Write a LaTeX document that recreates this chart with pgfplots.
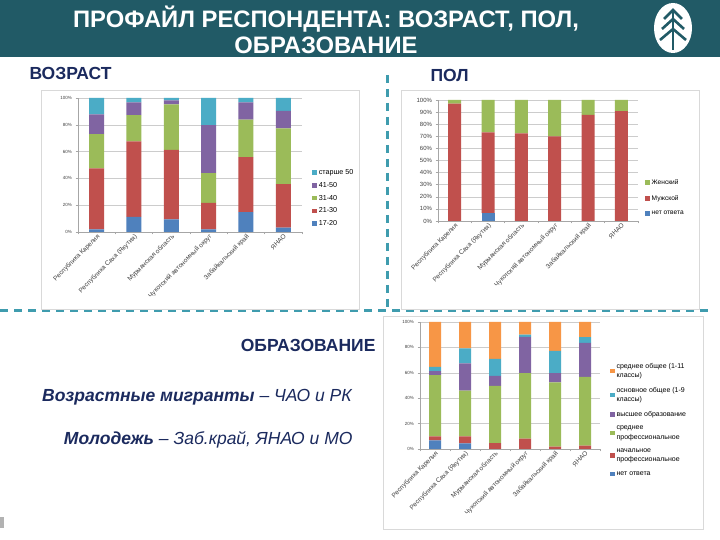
\documentclass[border=0pt]{standalone}
\usepackage{fontspec}
\setmainfont{Liberation Sans}
\usepackage{pgfplots}
\pgfplotsset{compat=1.18}
\definecolor{xblue}{HTML}{4F81BD}
\definecolor{xred}{HTML}{C0504D}
\definecolor{xgreen}{HTML}{9BBB59}
\definecolor{xpurple}{HTML}{8064A2}
\definecolor{xaqua}{HTML}{4BACC6}
\definecolor{xorange}{HTML}{F79646}
\definecolor{hdr}{HTML}{215A66}
\definecolor{navy}{HTML}{1B2A5E}
\definecolor{dashc}{HTML}{3F9CAE}
\definecolor{frame}{HTML}{D9D9D9}
\newcommand\fs[1]{\fontsize{#1}{#1}\selectfont}
\pgfplotsset{
  xlchart/.style={
    scale only axis, ybar stacked, ymin=0, ymax=100, xmin=-0.5, xmax=5.5,
    axis x line*=bottom, axis y line*=left,
    axis line style={draw=gray!70, line width=0.5pt},
    xtick={-0.5,0.5,...,5.5}, xticklabels={},
    extra x ticks={0,1,2,3,4,5},
    extra x tick labels={Республика Карелия,Республика Саха (Якутия),Мурманская область,Чукотский автономный округ,Забайкальский край,ЯНАО},
    extra x tick style={major tick length=0pt, grid=none, tick label style={rotate=45, anchor=north east, inner sep=1pt, text=black!75, font=\fs{6.5}}},
    tick align=outside, major tick length=2.5pt, tick style={draw=gray!70, line width=0.4pt},
    ymajorgrids, grid style={gray!40, line width=0.4pt},
    yticklabel style={text=black!75},
    /pgf/number format/assume math mode=true,
    legend cell align=left, reverse legend,
    legend style={draw=none, fill=none, anchor=south west, inner sep=0pt},
    legend image code/.code={\fill[##1] (0pt,-2pt) rectangle (4.5pt,2.5pt);},
    every axis plot/.append style={draw=none},
  }
}
\begin{document}
\begin{tikzpicture}[x=1pt,y=1pt]
\useasboundingbox (0,0) rectangle (720,540);
\fill[white] (0,0) rectangle (720,540);
\coordinate (Aage) at (78,308);
\coordinate (Agen) at (438,319);
\coordinate (Aedu) at (420,91);
% header
\fill[hdr] (0,483) rectangle (720,540);
\node[white, font=\bfseries\fontsize{23.8}{26}\selectfont, align=center] at (326,510) {ПРОФАЙЛ РЕСПОНДЕНТА: ВОЗРАСТ, ПОЛ,\\ОБРАЗОВАНИЕ};
\fill[white] (673,512) ellipse [x radius=19, y radius=25];
\draw[hdr, line width=2.6pt] (664,521) -- (673,530) -- (682,521);
\draw[hdr, line width=2.6pt] (662,511) -- (673,521) -- (684,511);
\draw[hdr, line width=2.6pt] (660,500) -- (673,511) -- (686,500);
\draw[hdr, line width=2.6pt] (673,530) -- (673,490);
% section labels
\node[navy, font=\bfseries\fs{17.5}, anchor=west] at (26,467) {ВОЗРАСТ};
\node[navy, font=\bfseries\fs{17.5}, anchor=west] at (427,465) {ПОЛ};
\node[navy, font=\bfseries\fs{17.5}, anchor=east] at (379,195) {ОБРАЗОВАНИЕ};
\node[navy, font=\fs{17.5}, anchor=east] at (356,143) {\textbf{\textit{Возрастные мигранты}} \textit{– ЧАО и РК}};
\node[navy, font=\fs{17.5}, anchor=east] at (356,100) {\textbf{\textit{Молодежь}} \textit{– Заб.край, ЯНАО и МО}};
% separators
\draw[dashc, line width=3pt, dash pattern=on 8pt off 6pt] (0,229) -- (712,229);
\draw[dashc, line width=3pt, dash pattern=on 8pt off 6pt] (387,465) -- (387,233);
\fill[gray!60] (0,12) rectangle (4,23);
% frames
\draw[frame, line width=0.8pt] (41,231) rectangle (359,450);
\draw[frame, line width=0.8pt] (401,231) rectangle (699,450);
\draw[frame, line width=0.8pt] (383,11) rectangle (703,224);

% AGE
\begin{axis}[xlchart, at={(Aage)}, anchor=south west, width=224pt, height=134pt,
  bar width=15pt,
  ytick={0,20,...,100}, yticklabels={0\%,20\%,40\%,60\%,80\%,100\%},
  yticklabel style={font=\fs{4.5}},
  legend style={at={(1.045,0.02)}, font=\fs{7.2}, row sep=2.2pt},
]
\addplot[fill=xblue] coordinates {(0,2) (1,11.2) (2,9.4) (3,2) (4,14.9) (5,3.2)};
\addlegendentry{17-20}
\addplot[fill=xred] coordinates {(0,45.4) (1,56.5) (2,51.9) (3,19.8) (4,40.9) (5,32.5)};
\addlegendentry{21-30}
\addplot[fill=xgreen] coordinates {(0,25.6) (1,19.6) (2,34) (3,22.1) (4,28.1) (5,41.7)};
\addlegendentry{31-40}
\addplot[fill=xpurple] coordinates {(0,14.8) (1,9.5) (2,3) (3,35.8) (4,12.9) (5,12.9)};
\addlegendentry{41-50}
\addplot[fill=xaqua] coordinates {(0,12.2) (1,3.2) (2,1.7) (3,20.3) (4,3.2) (5,9.7)};
\addlegendentry{старше 50}
\end{axis}

% GENDER
\begin{axis}[xlchart, at={(Agen)}, anchor=south west, width=200pt, height=121pt,
  bar width=13pt,
  ytick={0,10,...,100}, yticklabels={0\%,10\%,20\%,30\%,40\%,50\%,60\%,70\%,80\%,90\%,100\%},
  yticklabel style={font=\fs{6}},
  legend style={at={(1.035,0.02)}, font=\fs{6.6}, row sep=5.5pt},
]
\addplot[fill=xblue] coordinates {(0,0) (1,6.6) (2,0) (3,0) (4,0) (5,0)};
\addlegendentry{нет ответа}
\addplot[fill=xred] coordinates {(0,97) (1,66.6) (2,72.4) (3,69.9) (4,87.8) (5,90.9)};
\addlegendentry{Мужской}
\addplot[fill=xgreen] coordinates {(0,3) (1,26.8) (2,27.6) (3,30.1) (4,12.2) (5,9.1)};
\addlegendentry{Женский}
\end{axis}

% EDUCATION
\begin{axis}[xlchart, at={(Aedu)}, anchor=south west, width=180pt, height=127pt,
  bar width=12pt,
  ytick={0,20,...,100}, yticklabels={0\%,20\%,40\%,60\%,80\%,100\%},
  yticklabel style={font=\fs{4.5}},
  legend style={at={(1.055,-0.235)}, font=\fontsize{7}{9.5}\selectfont, row sep=4pt, cells={align=left}},
]
\addplot[fill=xblue] coordinates {(0,6.8) (1,4.5) (2,0) (3,0) (4,0) (5,0)};
\addlegendentry{нет ответа}
\addplot[fill=xred] coordinates {(0,3.1) (1,5.4) (2,4.7) (3,8.1) (4,1.8) (5,2.6)};
\addlegendentry{начальное\\профессиональное}
\addplot[fill=xgreen] coordinates {(0,48.2) (1,36.1) (2,45) (3,51.6) (4,50.6) (5,54.2)};
\addlegendentry{среднее\\профессиональное}
\addplot[fill=xpurple] coordinates {(0,3.2) (1,21.5) (2,7.9) (3,28.5) (4,7.3) (5,26.7)};
\addlegendentry{высшее образование}
\addplot[fill=xaqua] coordinates {(0,3.4) (1,11.8) (2,13.3) (3,1.9) (4,17.5) (5,4.5)};
\addlegendentry{основное общее (1-9\\классы)}
\addplot[fill=xorange] coordinates {(0,35.3) (1,20.7) (2,29.1) (3,9.9) (4,22.8) (5,12)};
\addlegendentry{среднее общее (1-11\\классы)}
\end{axis}
\end{tikzpicture}
\end{document}
